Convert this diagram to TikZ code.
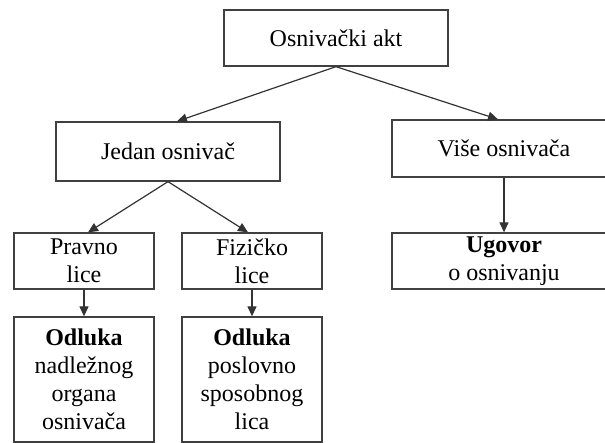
\documentclass[tikz,border=0pt]{standalone}
\usepackage{fontspec}
\setmainfont{Liberation Serif}
\usetikzlibrary{arrows.meta,calc}
\begin{document}
\begin{tikzpicture}[x=1pt,y=-1pt,
  box/.style={draw=black!75,line width=1.3pt,inner sep=0pt,align=center,
    font=\fontsize{24}{28}\selectfont},
  conn/.style={draw=black!80,line width=1.2pt,-{Triangle[length=10pt,width=9pt]}}]
\useasboundingbox (0,0) rectangle (605,442);
\clip (0,0) rectangle (605,442);
\node[box,minimum width=224pt,minimum height=56pt] (akt) at (336,38) {Osnivački akt};
\node[box,minimum width=224pt,minimum height=59pt] (jedan) at (168,151.5) {Jedan osnivač};
\node[box,minimum width=224pt,minimum height=57pt] (vise) at (504,148.5) {Više osnivača};
\node[box,minimum width=140pt,minimum height=56pt] (pravno) at (84,261) {Pravno\\lice};
\node[box,minimum width=140pt,minimum height=56pt] (fizicko) at (252,261) {Fizičko\\lice};
\node[box,minimum width=224pt,minimum height=56pt] (ugovor) at (504,261) {\textbf{Ugovor}\\o osnivanju};
\node[box,minimum width=140pt,minimum height=125pt] (odluka1) at (84,379.5) {\textbf{Odluka}\\nadležnog\\organa\\osnivača};
\node[box,minimum width=140pt,minimum height=125pt] (odluka2) at (252,379.5) {\textbf{Odluka}\\poslovno\\sposobnog\\lica};
\draw[conn] (akt.south) -- ($(jedan.north)+(9,0)$);
\draw[conn] (akt.south) -- ($(vise.north)+(-6,0)$);
\draw[conn] (jedan.south) -- ($(pravno.north)+(4,0)$);
\draw[conn] (jedan.south) -- ($(fizicko.north)+(-4,0)$);
\draw[conn] (pravno.south) -- (odluka1.north);
\draw[conn] (fizicko.south) -- (odluka2.north);
\draw[conn] (vise.south) -- (ugovor.north);
\end{tikzpicture}
\end{document}
